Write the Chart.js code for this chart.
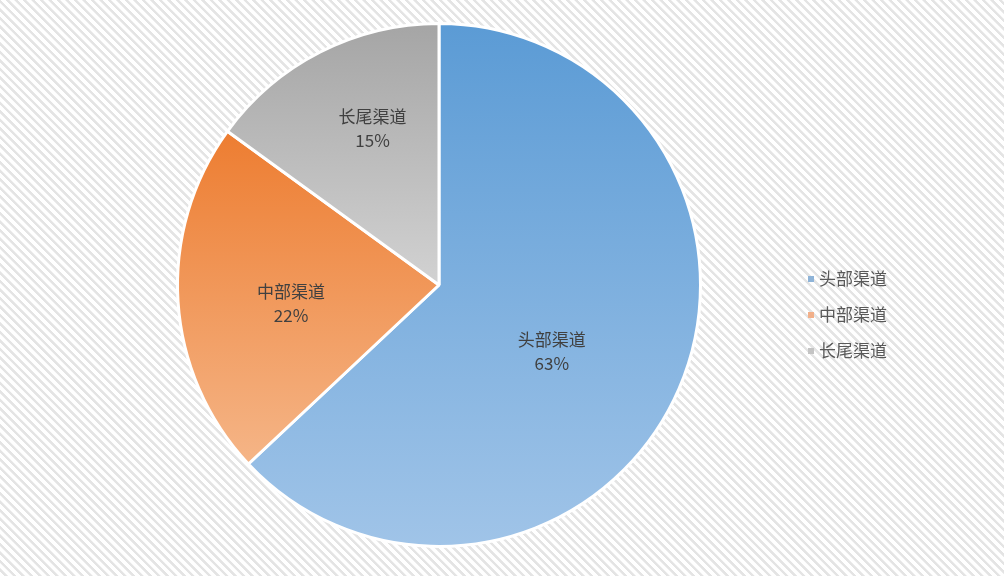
<!DOCTYPE html>
<html>
<head>
<meta charset="utf-8">
<script src="https://cdn.jsdelivr.net/npm/chart.js@4.4.1/dist/chart.umd.min.js"></script>
<style>
  html, body {
    margin: 0;
    padding: 0;
  }
  body {
    width: 1004px;
    height: 576px;
    overflow: hidden;
    background: repeating-linear-gradient(45deg, #ffffff 0px, #ffffff 3px, #e4e4e4 3.5px, #e4e4e4 5.5px, #ffffff 6px);
  }
  #wrap {
    position: relative;
    width: 1004px;
    height: 576px;
  }
</style>
</head>
<body>
<div id="wrap"><canvas id="pie"></canvas></div>
<script>
const categories = ["头部渠道", "中部渠道", "长尾渠道"];
const shares = [63, 22, 15];
const percentLabels = ["63%", "22%", "15%"];
const topColors = ["#5b9bd5", "#ed7d31", "#a5a5a5"];
const bottomColors = ["#a0c4e8", "#f5b587", "#d2d2d2"];
const legendColors = ["#8fb4d8", "#f2b08a", "#c4c4c4"];

const FONT = "'Noto Sans CJK SC', 'Noto Sans', sans-serif";

// 标签放置（相对半径、角度微调，类似 Excel 的“最佳匹配”）
const labelRadius = [0.50, 0.57, 0.65];
const labelNudgeDeg = [7, -3.5, 4];

// 每个扇区按自身上下范围做纵向渐变
const sliceGradient = {
  id: "sliceGradient",
  beforeDatasetDraw(chart, args) {
    const ctx = chart.ctx;
    args.meta.data.forEach((arc, i) => {
      const p = arc.getProps(["x", "y", "startAngle", "endAngle", "outerRadius"], true);
      const ys = [p.y, p.y + Math.sin(p.startAngle) * p.outerRadius, p.y + Math.sin(p.endAngle) * p.outerRadius];
      const within = (a) => {
        let t = a;
        while (t < p.startAngle) t += Math.PI * 2;
        return t <= p.endAngle;
      };
      if (within(-Math.PI / 2)) ys.push(p.y - p.outerRadius);
      if (within(Math.PI / 2)) ys.push(p.y + p.outerRadius);
      const top = Math.min(...ys), bottom = Math.max(...ys);
      const g = ctx.createLinearGradient(0, top, 0, bottom);
      g.addColorStop(0, topColors[i]);
      g.addColorStop(1, bottomColors[i]);
      arc.options.backgroundColor = g;
    });
  }
};

// 扇区内的类别 + 百分比标签
const sliceLabels = {
  id: "sliceLabels",
  afterDatasetsDraw(chart) {
    const ctx = chart.ctx;
    const meta = chart.getDatasetMeta(0);
    ctx.save();
    ctx.fillStyle = "#404040";
    ctx.textAlign = "center";
    ctx.textBaseline = "middle";
    ctx.font = "17px " + FONT;
    meta.data.forEach((arc, i) => {
      const p = arc.getProps(["x", "y", "startAngle", "endAngle", "outerRadius"], true);
      const mid = (p.startAngle + p.endAngle) / 2 + labelNudgeDeg[i] * Math.PI / 180;
      const r = p.outerRadius * labelRadius[i];
      const x = p.x + Math.cos(mid) * r;
      const y = p.y + Math.sin(mid) * r;
      ctx.fillText(categories[i], x, y - 12);
      ctx.fillText(percentLabels[i], x, y + 12);
    });
    ctx.restore();
  }
};

// 右侧图例
const sideLegend = {
  id: "sideLegend",
  afterDraw(chart) {
    const ctx = chart.ctx;
    ctx.save();
    ctx.font = "17px " + FONT;
    ctx.textBaseline = "middle";
    ctx.textAlign = "left";
    categories.forEach((name, i) => {
      const y = 279 + i * 36;
      ctx.fillStyle = legendColors[i];
      ctx.fillRect(808, y - 3, 6, 6);
      ctx.fillStyle = "#595959";
      ctx.fillText(name, 819, y);
    });
    ctx.restore();
  }
};

new Chart(document.getElementById("pie"), {
  type: "pie",
  data: {
    labels: categories,
    datasets: [{
      data: shares,
      backgroundColor: topColors,
      borderColor: "#ffffff",
      borderWidth: 3
    }]
  },
  options: {
    responsive: true,
    maintainAspectRatio: false,
    animation: false,
    layout: {
      padding: { left: 0, right: 126, top: 22, bottom: 28 }
    },
    plugins: {
      legend: { display: false },
      tooltip: { enabled: false }
    }
  },
  plugins: [sliceGradient, sliceLabels, sideLegend]
});
</script>
</body>
</html>
